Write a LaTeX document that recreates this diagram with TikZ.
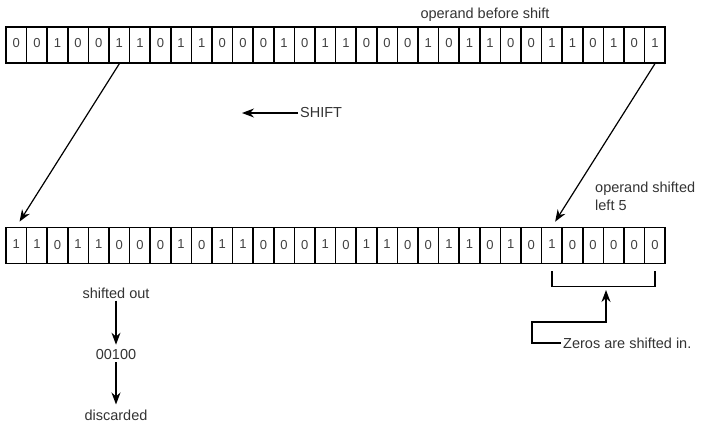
\documentclass[tikz,border=0pt]{standalone}
\usepackage{fontspec}
\setmainfont{Liberation Sans}
\usetikzlibrary{arrows.meta}

\begin{document}
\begin{tikzpicture}[x=1pt,y=-1pt,
	cell/.style={draw,line width=1.5pt,minimum width=20.6pt,minimum height=36pt,inner sep=0pt,font=\fontsize{13}{15}\selectfont,text=black!75},
	lbl/.style={font=\fontsize{14.5}{18}\selectfont,text=black!80,inner sep=2pt},
	arr/.style={line width=1.2pt,-{Stealth[length=12pt,width=9pt]}}]
	\useasboundingbox (0,0) rectangle (708,428);

	% operand before shift
	\foreach \bit [count=\i] in {0,0,1,0,0,1,1,0,1,1,0,0,0,1,0,1,1,0,0,0,1,0,1,1,0,0,1,1,0,1,0,1}
		\node[cell] (t\i) at ({6+20.6*(\i-0.5)},45) {\raisebox{4pt}{\bit}};
	\node[lbl] (before) at (485,15) {operand before shift};

	% operand after shift
	\foreach \bit [count=\i] in {1,1,0,1,1,0,0,0,1,0,1,1,0,0,0,1,0,1,1,0,0,1,1,0,1,0,1,0,0,0,0,0}
		\node[cell] (b\i) at ({6+20.6*(\i-0.5)},245.5) {\raisebox{2pt}{\bit}};
	\node[lbl,anchor=north west,align=left] (after) at (593,180) {operand shifted\\left 5};

	\draw[arr,shorten >=6pt] (t6.south) -- (b1.north);
	\draw[arr,shorten >=6pt] (t32.south) -- (b27.north);

	% direction
	\node[lbl,anchor=west] (shift) at (298,113) {SHIFT};
	\coordinate (shiftend) at (242,113);
	\draw[arr] (shift.west) -- (shiftend);

	% the bits that fall off
	\node[lbl] (out) at (116,293) {shifted out};
	\node[lbl] (lost) at (116,355) {00100};
	\node[lbl] (gone) at (116,415) {discarded};
	\draw[arr,shorten >=3pt] (out) -- (lost);
	\draw[arr,shorten >=3pt] (lost) -- (gone);

	% zeros coming in
	\draw[line width=1.5pt] ([yshift=-7pt]b27.south) -- ([yshift=-22pt]b27.south) -- ([yshift=-22pt]b32.south) -- ([yshift=-7pt]b32.south);
	\coordinate (brk) at (606,285);
	\coordinate (bend) at (532,322);
	\node[lbl,anchor=west] (zeros) at (561,343) {Zeros are shifted in.};
	\draw[arr,line width=1.5pt,shorten >=5pt] (zeros.west) -| (bend) -| (brk);
\end{tikzpicture}
\end{document}
